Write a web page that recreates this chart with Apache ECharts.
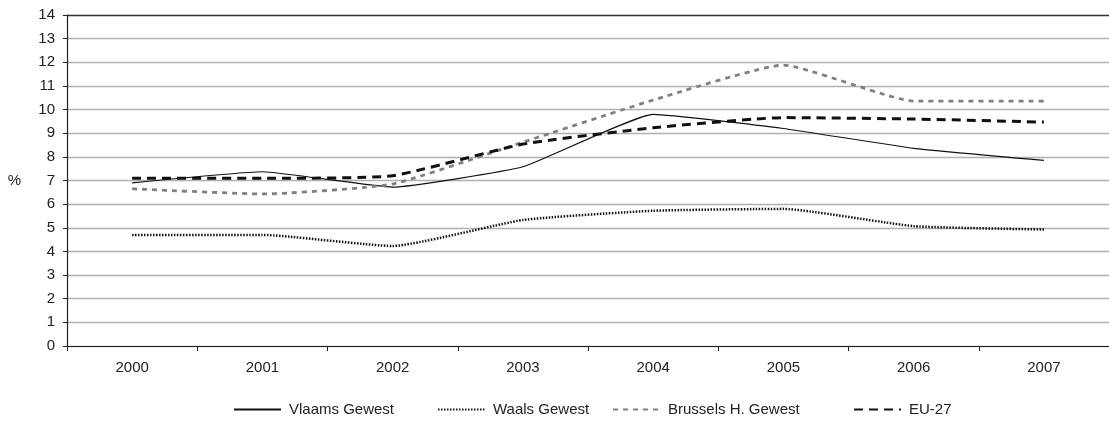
<!DOCTYPE html>
<html><head><meta charset="utf-8">
<script src="https://cdn.jsdelivr.net/npm/echarts@6/dist/echarts.min.js"></script>
<style>html,body{margin:0;padding:0;background:#fff}#c{width:1109px;height:421px}</style>
</head><body><div id="c"></div>
<script>
const years = ['2000','2001','2002','2003','2004','2005','2006','2007'];
const vlaams = [6.9, 7.37, 6.72, 7.58, 9.8, 9.2, 8.36, 7.85];
const waals = [4.7, 4.7, 4.23, 5.33, 5.72, 5.8, 5.07, 4.93];
const brussels = [6.65, 6.43, 6.85, 8.62, 10.4, 11.88, 10.36, 10.36];
const eu27 = [7.09, 7.09, 7.2, 8.54, 9.23, 9.66, 9.6, 9.47];
const seriesNames = ['Vlaams Gewest','Waals Gewest','Brussels H. Gewest','EU-27'];
const yTicks = {min: 0, max: 14, interval: 1};

const font = 'Liberation Sans';
const fs = 15;
const gridColors = [];
for (let i = 0; i <= 14; i++) gridColors.push(i === 14 ? '#333' : '#b0b0b0');

const legendLefts = [228, 432, 607, 848];
const legends = seriesNames.map((n, i) => ({
  top: 397, left: legendLefts[i], itemWidth: 47, itemHeight: 12,
  itemStyle: {opacity: 0},
  textStyle: {fontFamily: font, fontSize: fs, color: '#222', padding: [0, 0, 0, 3]},
  data: [n]
}));

const chart = echarts.init(document.getElementById('c'));
chart.setOption({
  animation: false,
  textStyle: {fontFamily: font},
  grid: {left: 67, right: -4, top: 15, bottom: 75, containLabel: false},
  legend: legends,
  xAxis: {
    type: 'category', data: years, boundaryGap: true,
    axisLine: {lineStyle: {color: '#222', width: 1.2}},
    axisTick: {show: true, length: 5, lineStyle: {color: '#222'}, alignWithLabel: false},
    axisLabel: {fontFamily: font, fontSize: fs, color: '#222', margin: 14},
    splitLine: {show: false}
  },
  yAxis: {
    type: 'value', min: yTicks.min, max: yTicks.max, interval: yTicks.interval,
    name: '%', nameLocation: 'middle', nameRotate: 0, nameGap: 46,
    nameTextStyle: {fontFamily: font, fontSize: fs, color: '#222'},
    axisLine: {show: true, lineStyle: {color: '#222', width: 1.2}},
    axisTick: {show: true, length: 4, lineStyle: {color: '#222'}},
    axisLabel: {fontFamily: font, fontSize: fs, color: '#222', margin: 12},
    splitLine: {show: true, lineStyle: {color: gridColors, width: 1.3}}
  },
  series: [
    {name: seriesNames[0], type: 'line', data: vlaams, smooth: 0.12, symbol: 'none',
     lineStyle: {color: '#111', width: 1.2, type: 'solid'}, itemStyle: {color: '#111'}},
    {name: seriesNames[1], type: 'line', data: waals, smooth: 0.15, symbol: 'none',
     lineStyle: {color: '#111', width: 2.5, type: [1.5, 1.5]}, itemStyle: {color: '#111'}},
    {name: seriesNames[2], type: 'line', data: brussels, smooth: 0.15, symbol: 'none',
     lineStyle: {color: '#808080', width: 2.8, type: [5, 5]}, itemStyle: {color: '#808080'}},
    {name: seriesNames[3], type: 'line', data: eu27, smooth: 0.15, symbol: 'none',
     lineStyle: {color: '#111', width: 3, type: [9, 6]}, itemStyle: {color: '#111'}}
  ]
});
</script></body></html>
